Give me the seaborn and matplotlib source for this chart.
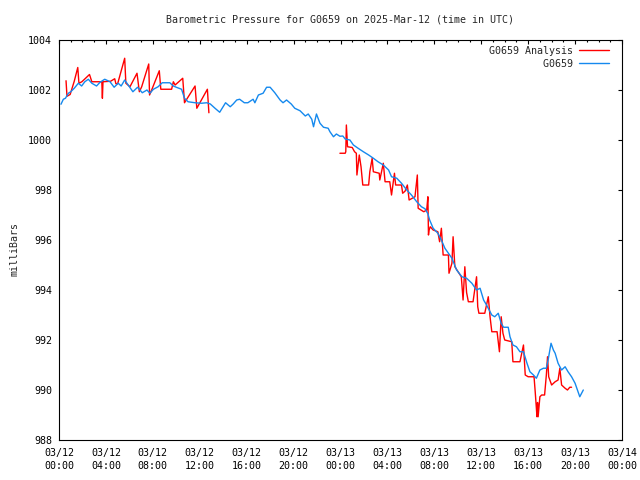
import numpy as np
import pandas as pd
import matplotlib
matplotlib.use('Agg')
import matplotlib.pyplot as plt
import matplotlib.dates as mdates
import seaborn as sns

# Hours after 2025-03-12 00:00 UTC, pressure in mb
obs_hours = [0.17, 0.37, 0.55, 0.8, 1.0, 1.3, 1.65, 1.93, 2.2, 2.5, 2.8, 3.2, 3.5, 3.9,
             4.35, 4.7, 5.05, 5.3, 5.6, 5.9, 6.3, 6.7, 7.1, 7.5, 7.75, 8.05, 8.45, 8.8,
             9.45, 9.75, 10.0, 10.45, 10.7, 11.0, 11.6, 12.15, 12.6, 12.9, 13.3, 13.7,
             14.2, 14.6, 14.85, 15.15, 15.4, 15.8, 16.1, 16.55, 16.7, 17.0, 17.4, 17.7,
             18.0, 18.4, 18.85, 19.1, 19.4, 19.8, 20.1, 20.55, 21.0, 21.25, 21.55, 21.7,
             21.95, 22.25, 22.55, 22.95, 23.1, 23.4, 23.65, 23.95, 24.2, 24.4, 24.8, 25.1,
             25.5, 25.95, 26.4, 26.8, 27.2, 27.65, 28.1, 28.35, 28.8, 29.2, 29.65, 30.05,
             30.5, 30.9, 31.2, 31.45, 31.6, 31.9, 32.3, 32.6, 32.9, 33.2, 33.5, 33.9,
             34.35, 34.75, 35.2, 35.6, 35.9, 36.2, 36.45, 36.9, 37.15, 37.45, 37.7, 37.9,
             38.3, 38.45, 38.7, 39.0, 39.3, 39.6, 39.9, 40.15, 40.45, 40.7, 41.0, 41.3,
             41.55, 41.7, 41.95, 42.15, 42.3, 42.55, 42.85, 43.15, 43.4, 43.7, 44.0, 44.4,
             44.7]
obs_mb = [1001.43, 1001.63, 1001.67, 1001.87, 1001.93, 1002.07, 1002.27, 1002.16, 1002.33,
          1002.43, 1002.27, 1002.16, 1002.31, 1002.43, 1002.33, 1002.11, 1002.27, 1002.16,
          1002.40, 1002.20, 1001.93, 1002.11, 1001.89, 1002.00, 1001.87, 1002.03, 1002.13,
          1002.29, 1002.29, 1002.16, 1002.11, 1002.03, 1001.67, 1001.53, 1001.49, 1001.47,
          1001.49, 1001.44, 1001.27, 1001.11, 1001.49, 1001.33, 1001.44, 1001.60, 1001.63,
          1001.49, 1001.49, 1001.63, 1001.49, 1001.80, 1001.87, 1002.11, 1002.11, 1001.89,
          1001.60, 1001.49, 1001.60, 1001.44, 1001.27, 1001.17, 1000.96, 1001.04, 1000.83,
          1000.53, 1001.04, 1000.67, 1000.51, 1000.47, 1000.33, 1000.13, 1000.24, 1000.15,
          1000.16, 1000.04, 1000.00, 999.80, 999.67, 999.53, 999.40, 999.27, 999.13, 999.00,
          998.80, 998.53, 998.47, 998.27, 998.00, 997.80, 997.53, 997.33, 997.25, 997.05,
          996.80, 996.47, 996.27, 996.00, 995.67, 995.47, 995.27, 994.80, 994.53, 994.47,
          994.27, 994.00, 994.07, 993.60, 993.40, 993.00, 992.93, 993.07, 992.67, 992.51,
          992.51, 992.13, 991.80, 991.73, 991.53, 991.53, 991.07, 990.73, 990.60, 990.47,
          990.80, 990.87, 990.87, 991.20, 991.87, 991.60, 991.47, 991.07, 990.80, 990.93,
          990.73, 990.53, 990.27, 989.73, 990.00]

# analysis, first block (03/12 morning)
ana1_hours = [0.6, 0.68, 0.95, 1.3, 1.6, 1.7, 1.95, 2.6, 2.8, 3.65, 3.7, 3.75, 4.4, 4.75,
              4.85, 5.0, 5.6, 5.7, 6.05, 6.65, 6.85, 7.05, 7.65, 7.72, 7.9, 8.55, 8.68,
              9.6, 9.75, 9.9, 10.55, 10.7, 11.6, 11.75, 12.65, 12.78]
ana1_mb = [1002.37, 1001.75, 1001.82, 1002.35, 1002.90, 1002.27, 1002.33, 1002.62, 1002.33,
           1002.33, 1001.67, 1002.33, 1002.35, 1002.45, 1002.25, 1002.25, 1003.27, 1002.27,
           1002.13, 1002.67, 1001.93, 1002.13, 1003.04, 1001.80, 1002.00, 1002.77, 1002.03,
           1002.03, 1002.33, 1002.20, 1002.47, 1001.49, 1002.16, 1001.27, 1002.03, 1001.09]

# analysis, second block (03/13)
ana2_hours = [23.95, 24.4, 24.45, 24.5, 24.6, 25.0, 25.2, 25.35, 25.4, 25.6, 25.75, 25.9,
              26.4, 26.5, 26.7, 26.8, 27.3, 27.35, 27.65, 27.8, 28.2, 28.35, 28.6, 28.7,
              29.2, 29.3, 29.5, 29.7, 29.85, 30.35, 30.55, 30.62, 31.1, 31.35, 31.45, 31.5,
              31.55, 31.65, 31.9, 32.3, 32.45, 32.6, 32.75, 33.2, 33.25, 33.5, 33.6, 33.75,
              34.3, 34.45, 34.6, 34.75, 34.9, 35.3, 35.6, 35.7, 35.8, 36.3, 36.6, 36.75,
              36.9, 37.35, 37.45, 37.55, 37.7, 37.85, 38.0, 38.6, 38.7, 39.3, 39.6, 39.75,
              40.0, 40.5, 40.6, 40.7, 40.75, 40.8, 40.85, 41.0, 41.15, 41.4, 41.55, 41.65,
              41.75, 42.0, 42.3, 42.55, 42.7, 42.85, 43.15, 43.35, 43.55, 43.7]
ana2_mb = [999.47, 999.47, 999.53, 1000.60, 999.73, 999.70, 999.53, 999.47, 998.60, 999.40,
           998.93, 998.20, 998.20, 998.73, 999.27, 998.73, 998.67, 998.40, 999.07, 998.33,
           998.33, 997.80, 998.67, 998.20, 998.20, 997.87, 997.95, 998.20, 997.60, 997.73,
           998.60, 997.27, 997.13, 997.20, 997.73, 996.20, 996.40, 996.53, 996.40, 996.33,
           995.93, 996.47, 995.40, 995.40, 994.67, 995.07, 996.13, 994.93, 994.53, 993.60,
           994.93, 993.90, 993.53, 993.53, 994.53, 993.33, 993.07, 993.07, 993.73, 992.93,
           992.33, 992.33, 991.93, 991.53, 992.93, 992.27, 992.00, 991.93, 991.13, 991.13,
           991.80, 990.60, 990.53, 990.53, 989.93, 989.27, 988.93, 989.50, 988.93, 989.73,
           989.80, 989.80, 990.60, 991.33, 990.53, 990.20, 990.33, 990.40, 990.87, 990.20,
           990.07, 990.00, 990.11, 990.11]

start = pd.Timestamp('2025-03-12 00:00')


def to_frame(hours, mb):
    return pd.DataFrame({'time': start + pd.to_timedelta(hours, unit='h'), 'mb': mb})


obs = to_frame(obs_hours, obs_mb)
ana1 = to_frame(ana1_hours, ana1_mb)
ana2 = to_frame(ana2_hours, ana2_mb)

sns.set_style('white')
plt.rcParams['font.family'] = ['DejaVu Sans Mono']
plt.rcParams['font.size'] = 7.2

fig = plt.figure(figsize=(6.4, 4.8), dpi=100)
ax = fig.add_axes([59 / 640, 40 / 480, 563 / 640, 400 / 480])

red = '#ff0000'
blue = '#1589ee'
sns.lineplot(data=ana1, x='time', y='mb', color=red, lw=1.0, ax=ax,
             estimator=None, sort=False, label='G0659 Analysis')
sns.lineplot(data=ana2, x='time', y='mb', color=red, lw=1.0, ax=ax,
             estimator=None, sort=False)
sns.lineplot(data=obs, x='time', y='mb', color=blue, lw=1.0, ax=ax,
             estimator=None, sort=False, label='         G0659')

ax.set_xlim(start, start + pd.Timedelta(hours=48))
ax.set_ylim(988, 1004)
ax.set_yticks(np.arange(988, 1005, 2))
ax.xaxis.set_major_locator(mdates.HourLocator(byhour=range(0, 24, 4)))
ax.xaxis.set_minor_locator(mdates.HourLocator())
ax.xaxis.set_major_formatter(mdates.DateFormatter('%m/%d\n%H:%M'))
ax.tick_params(which='both', direction='in', top=True, right=True, colors='black')
ax.tick_params(which='major', length=3, width=0.8)
ax.tick_params(which='minor', length=1.6, width=0.8)
ax.tick_params(axis='x', pad=6)
ax.tick_params(axis='y', pad=5)
for lab in ax.get_xticklabels():
    lab.set_linespacing(1.3)
for s in ax.spines.values():
    s.set_color('black')
    s.set_linewidth(0.8)

ax.set_xlabel('')
ax.set_ylabel('')
fig.text(14 / 640, 1 - 249 / 480, 'milliBars', rotation=90, ha='center', va='center')
fig.text(340 / 640, 1 - 20 / 480,
         'Barometric Pressure for G0659 on 2025-Mar-12 (time in UTC)',
         ha='center', va='center')

ax.legend(loc='upper right', bbox_to_anchor=(1 - 10 / 563, 1 - 3 / 400), borderaxespad=0,
          frameon=False, markerfirst=False, handlelength=3.0, handletextpad=0.6,
          labelspacing=0.3, borderpad=0.3)

fig.savefig('out.png', dpi=100)
